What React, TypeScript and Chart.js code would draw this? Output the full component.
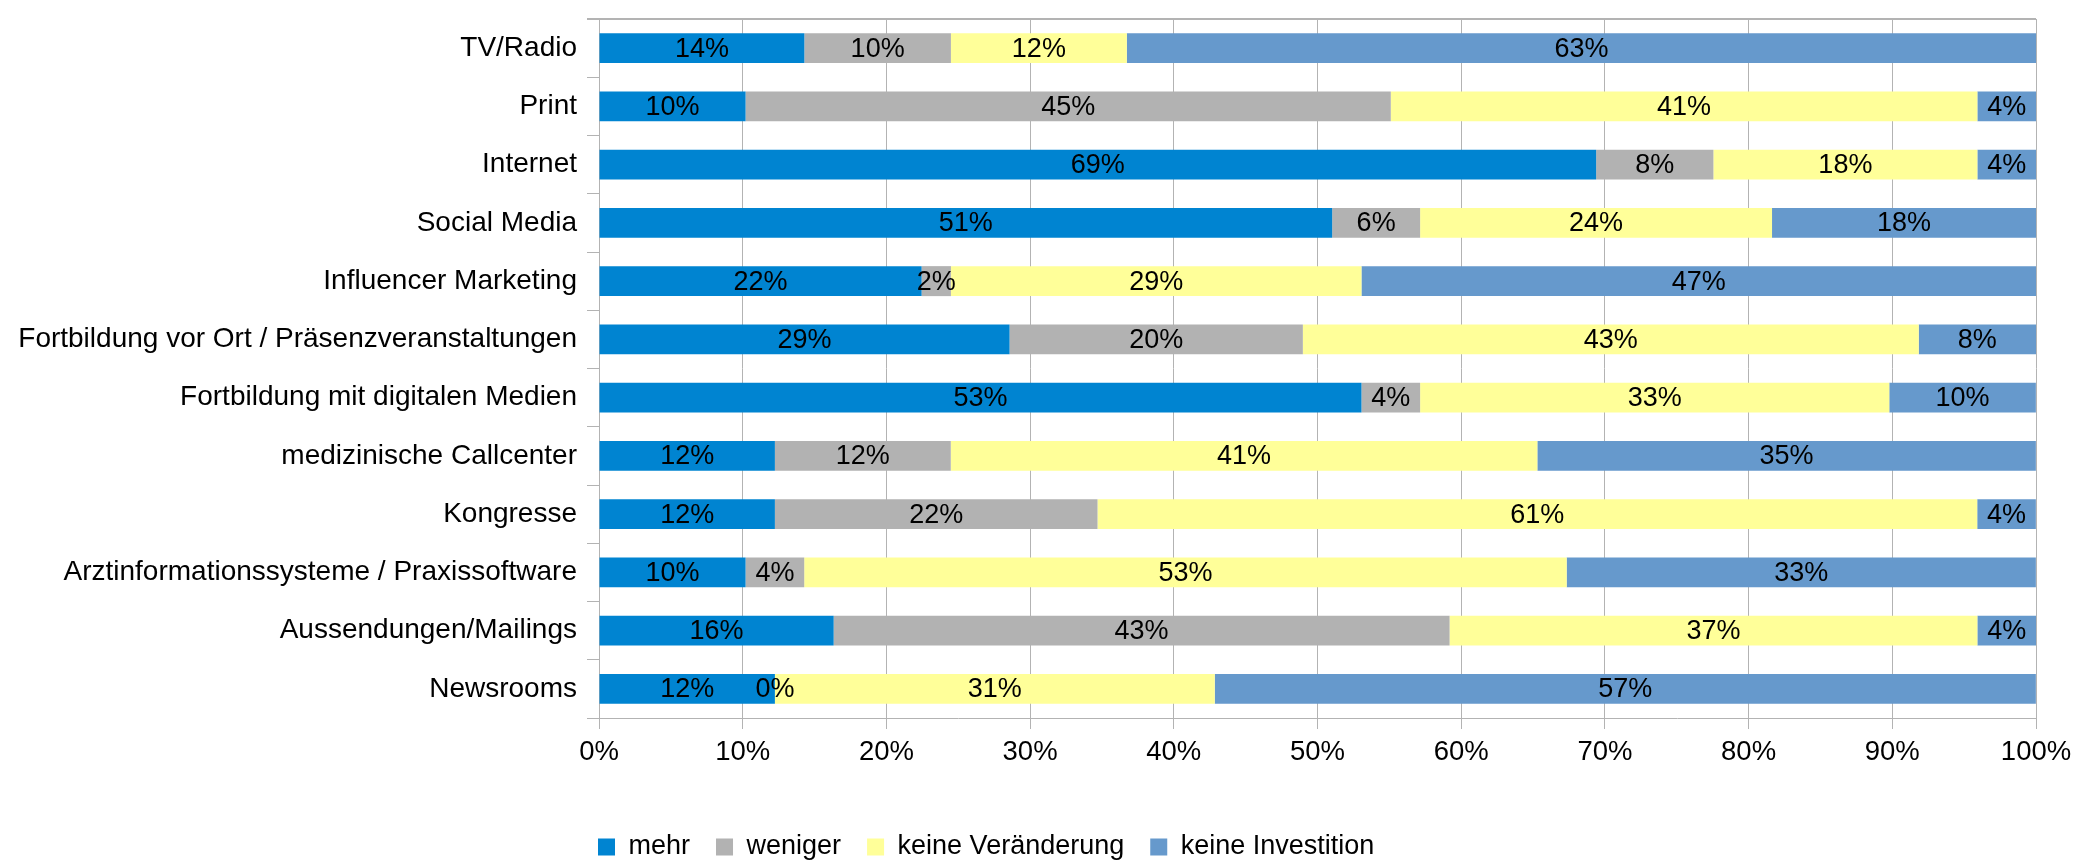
import React, { useEffect, useRef } from 'react';
import { Chart, registerables } from 'chart.js';

Chart.register(...registerables);

const categories = [
  'TV/Radio',
  'Print',
  'Internet',
  'Social Media',
  'Influencer Marketing',
  'Fortbildung vor Ort / Präsenzveranstaltungen',
  'Fortbildung mit digitalen Medien',
  'medizinische Callcenter',
  'Kongresse',
  'Arztinformationssysteme / Praxissoftware',
  'Aussendungen/Mailings',
  'Newsrooms',
];

const seriesNames = ['mehr', 'weniger', 'keine Veränderung', 'keine Investition'];

const mehr = [14.29, 10.2, 69.39, 51.02, 22.45, 28.57, 53.06, 12.24, 12.24, 10.2, 16.33, 12.24];
const weniger = [10.2, 44.9, 8.16, 6.12, 2.04, 20.41, 4.08, 12.24, 22.45, 4.08, 42.86, 0];
const keineVeraenderung = [12.24, 40.82, 18.37, 24.49, 28.57, 42.86, 32.65, 40.82, 61.22, 53.06, 36.73, 30.61];
const keineInvestition = [63.27, 4.08, 4.08, 18.37, 46.94, 8.16, 10.2, 34.69, 4.08, 32.65, 4.08, 57.14];

const seriesColors = ['#0084d1', '#b2b2b2', '#ffff99', '#6699cc'];

const FONT = "'Liberation Sans', Arial, Helvetica, sans-serif";
const GRID = '#b3b3b3';

const W = 2094;
const H = 864;

const dataLabelPlugin = {
  id: 'dataLabels',
  afterDatasetsDraw(chart: any) {
    const ctx = chart.ctx;
    ctx.save();
    ctx.font = `27px ${FONT}`;
    ctx.fillStyle = '#000';
    ctx.textAlign = 'center';
    ctx.textBaseline = 'middle';
    chart.data.datasets.forEach((ds: any, di: number) => {
      const meta = chart.getDatasetMeta(di);
      if (meta.hidden) return;
      meta.data.forEach((el: any, i: number) => {
        const v = ds.data[i];
        const cx = (el.x + el.base) / 2;
        ctx.fillText(`${Math.round(v)}%`, cx, el.y + 1);
      });
    });
    ctx.restore();
  },
};

const frameAndLegendPlugin = {
  id: 'frameAndLegend',
  afterLayout(chart: any) {
    const lg = chart.legend;
    if (lg) {
      const pad = lg.options.labels.padding;
      lg.left = 598 - pad;
      lg.top = 847 - pad - 13.5;
    }
  },
  beforeDatasetsDraw(chart: any) {
    const { ctx, chartArea } = chart;
    ctx.save();
    ctx.strokeStyle = GRID;
    ctx.lineWidth = 2;
    ctx.beginPath();
    ctx.moveTo(chartArea.left - 12, chartArea.top);
    ctx.lineTo(chartArea.right, chartArea.top);
    ctx.stroke();
    ctx.restore();
  },
};

export default function App() {
  const canvasRef = useRef<HTMLCanvasElement | null>(null);

  useEffect(() => {
    document.body.style.margin = '0';
    const canvas = canvasRef.current;
    if (!canvas) return;
    const series = [mehr, weniger, keineVeraenderung, keineInvestition];
    const chart = new Chart(canvas, {
      type: 'bar',
      data: {
        labels: categories,
        datasets: series.map((d, i) => ({
          label: seriesNames[i],
          data: d,
          backgroundColor: seriesColors[i],
          borderWidth: 0,
          barPercentage: 0.515,
          categoryPercentage: 1,
        })),
      },
      options: {
        indexAxis: 'y',
        responsive: false,
        animation: false,
        devicePixelRatio: 1,
        layout: { padding: { top: 19, right: 58, bottom: 0, left: 0 } },
        font: { family: FONT },
        plugins: {
          legend: {
            position: 'bottom',
            align: 'start',
            labels: {
              boxWidth: 17,
              boxHeight: 17,
              padding: 26,
              color: '#000',
              font: { family: FONT, size: 27 },
            },
          },
          tooltip: { enabled: false },
        },
        scales: {
          x: {
            stacked: true,
            min: 0,
            max: 100,
            ticks: {
              stepSize: 10,
              color: '#000',
              padding: 7,
              font: { family: FONT, size: 27.5 },
              callback: (v: any) => `${v}%`,
            },
            grid: { color: GRID, lineWidth: 1, tickLength: 11, tickColor: GRID },
            border: { color: GRID, width: 1 },
            afterFit: (s: any) => {
              const lh = s.chart.legend ? s.chart.legend.height : 0;
              s.height = H - 718 - lh;
            },
          },
          y: {
            stacked: true,
            ticks: {
              color: '#000',
              padding: 10,
              font: { family: FONT, size: 28 },
            },
            grid: { drawOnChartArea: false, color: GRID, tickLength: 12, tickColor: GRID, lineWidth: 1 },
            border: { color: GRID, width: 1 },
            afterFit: (s: any) => {
              s.width = 599;
              s.paddingTop = 0;
              s.paddingBottom = 0;
            },
          },
        },
      },
      plugins: [dataLabelPlugin, frameAndLegendPlugin],
    });
    return () => chart.destroy();
  }, []);

  return (
    <div style={{ width: W, height: H }}>
      <canvas ref={canvasRef} width={W} height={H} style={{ display: 'block', width: W, height: H }} />
    </div>
  );
}
